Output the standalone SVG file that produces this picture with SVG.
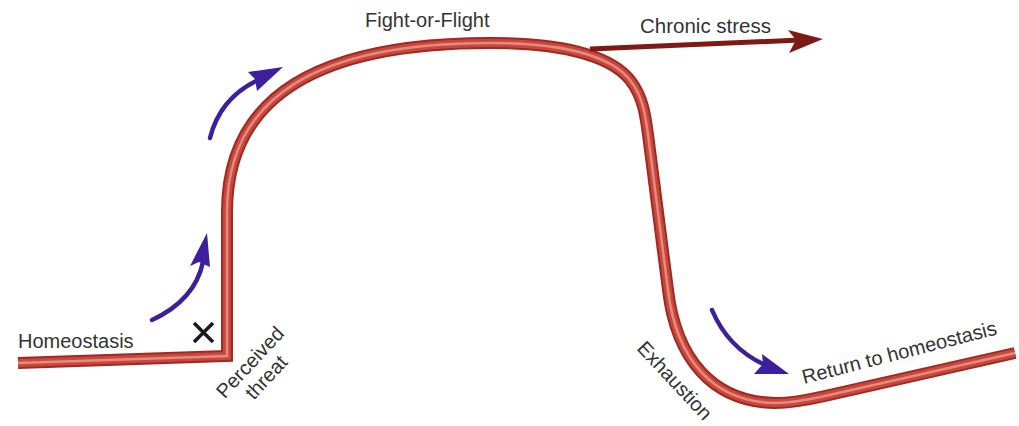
<svg xmlns="http://www.w3.org/2000/svg" width="1019" height="426" viewBox="0 0 1019 426">
  <style>
    .lbl { font-family: "Liberation Sans", Arial, sans-serif; font-size: 20px; fill: #333333; }
    .tube-edge { fill: none; stroke: #9e2a22; stroke-width: 12; stroke-linejoin: miter; stroke-linecap: butt; }
    .tube-body { fill: none; stroke: #c9473d; stroke-width: 8; stroke-linejoin: miter; stroke-linecap: butt; }
    .tube-shine { fill: none; stroke: #ea9c90; stroke-width: 2.5; stroke-linejoin: miter; stroke-linecap: butt; opacity: 0.8; }
    .flow { fill: none; stroke: #3c1f9c; stroke-width: 4.5; stroke-linecap: round; }
    .flow-head { fill: #3c1f9c; }
  </style>
  <defs>
    <!-- baseline, sharp rise, plateau, fall, and gentle return -->
    <path id="curve" d="M 18 363 L 227 356 L 227 212 C 227 95, 320 43, 490 43 C 560 43, 610 55, 630 80 C 645 99, 646 120, 650 150 L 668 290 C 676 358, 712 402, 775 403 C 790 403, 805 400.5, 825 396 L 1015 353"/>
  </defs>
  <rect width="1019" height="426" fill="#ffffff"/>

  <!-- connectors: the stress-response curve and flow arrows -->
  <g id="connectors">
    <use href="#curve" class="tube-edge"/>
    <use href="#curve" class="tube-body"/>
    <use href="#curve" class="tube-shine"/>

    <!-- chronic stress branch -->
    <line x1="590" y1="49" x2="800" y2="40" stroke="#7e1a16" stroke-width="5"/>
    <polygon points="823,39 788,30 796,40 789,53" fill="#7e1a16"/>

    <!-- rising arrows -->
    <path class="flow" d="M 152 320 Q 195 300 203 262"/>
    <polygon class="flow-head" points="207,233 190,266 199,262 210,267"/>
    <path class="flow" d="M 210 138 Q 220 98 258 80"/>
    <polygon class="flow-head" points="283,67 248,72 255,79 257,91"/>

    <!-- descending arrow -->
    <path class="flow" d="M 712 310 Q 728 348 765 365"/>
    <polygon class="flow-head" points="789,374 762,354 763,364 754,374"/>
  </g>

  <g id="homeostasis">
    <text class="lbl" x="18" y="348">Homeostasis</text>
  </g>

  <g id="perceived-threat">
    <path d="M 194 323 L 213 342 M 213 323 L 194 342" stroke="#1a1a1a" stroke-width="3.5" fill="none"/>
    <text class="lbl" transform="translate(255 367) rotate(-47)" text-anchor="middle">Perceived<tspan x="0" dy="22">threat</tspan></text>
  </g>

  <g id="fight-or-flight">
    <text class="lbl" x="365" y="27">Fight-or-Flight</text>
  </g>

  <g id="chronic-stress">
    <text class="lbl" x="640" y="33" style="font-size:20.5px">Chronic stress</text>
  </g>

  <g id="exhaustion">
    <text class="lbl" transform="translate(636 349) rotate(47)">Exhaustion</text>
  </g>

  <g id="return">
    <text class="lbl" transform="translate(804 384) rotate(-14.4)">Return to homeostasis</text>
  </g>
</svg>
